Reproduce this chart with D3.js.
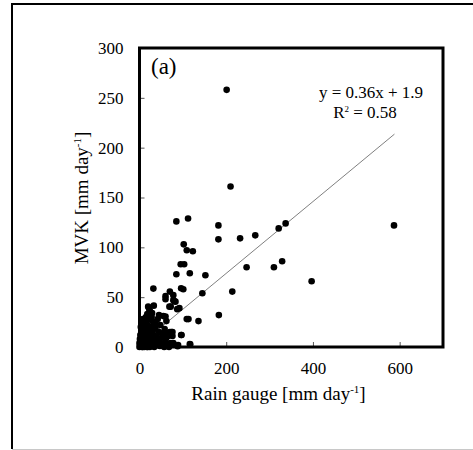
<!DOCTYPE html>
<html>
<head>
<meta charset="utf-8">
<script src="https://cdn.jsdelivr.net/npm/d3@7"></script>
<style>
  html, body { margin: 0; padding: 0; background: #fff; }
  svg { display: block; }
  text { font-family: "Liberation Serif", "Times New Roman", serif; fill: #000; }
</style>
</head>
<body>
<svg id="chart" width="473" height="450"></svg>
<script>
// ---- Data ----
const gaugeValues = [
  201, 210, 85, 112, 182, 182, 232, 267, 321, 337, 587,
  102, 109, 123, 95, 103, 85, 116, 152, 247, 310, 329, 397,
  96, 101, 32, 145, 214, 183, 136, 109, 113, 117, 88, 96, 76, 76,
  60, 70, 78, 60, 80, 69, 87, 92, 20, 33, 23,
  83, 72, 22, 29, 45, 60, 18, 37, 10, 78, 74, 97, 78, 89, 116, 61, 62, 55,
  0, 1, 2, 3, 4, 5, 6, 7, 8, 9, 10, 11, 12, 13, 14, 15, 16, 17, 18, 19,
  20, 21, 22, 23, 24, 25, 26, 27, 28, 29, 30, 31, 32, 33, 34, 35, 36, 37, 38,
  40, 42, 44, 45, 47, 48, 50, 52, 54, 55, 57, 58, 60, 62, 64, 66, 68, 70, 72,
  3, 5, 8, 2, 1, 0, 4, 6, 12, 15, 18, 10, 20, 25, 28, 14, 9, 11, 16, 19, 21, 23
];
const mvkValues = [
  258, 161, 126, 129, 122, 108, 109, 112, 119, 124, 122,
  103, 97, 96, 83, 83, 73, 74, 72, 80, 80, 86, 66,
  59, 58, 58.6, 54, 55.6, 32, 26, 28, 28, 2.7, 0.7, 12, 15, 11,
  51, 55.6, 52, 48, 46, 40.5, 38, 39, 40.5, 41.5, 37,
  45.5, 40.5, 39, 34, 32, 30.5, 29, 24, 20, 47, 15, 12, 4, 2, 3, 14, 9.4, 2,
  0, 2, 5, 1, 8, 3, 12, 0, 6, 15, 2, 10, 4, 18, 1, 7, 13, 0, 22, 5,
  9, 16, 3, 11, 0, 20, 6, 14, 2, 26, 8, 17, 4, 12, 0, 24, 7, 19, 3,
  10, 28, 5, 15, 1, 22, 9, 3, 13, 31, 0, 18, 6, 26, 2, 11, 0, 15, 4,
  20, 25, 28, 12, 8, 4, 16, 0, 24, 30, 33, 22, 28, 35, 30, 10, 3, 0, 4, 0, 1, 6
];
const xTickValues = [0, 200, 400, 600];
const yTickValues = [0, 50, 100, 150, 200, 250, 300];
const fitSlope = 0.36;
const fitIntercept = 1.9;
const fitRange = [0, 588];
const xTitle = "Rain gauge [mm day";
const yTitle = "MVK [mm day";
const panelLabel = "(a)";
const eqText = "y = 0.36x + 1.9";
const r2Value = " = 0.58";

const points = gaugeValues.map((g, i) => ({ x: g, y: mvkValues[i] }));

// ---- Layout ----
const svg = d3.select("#chart");
const x = d3.scaleLinear().domain([0, 700]).range([139.5, 443]);
const y = d3.scaleLinear().domain([0, 300]).range([347, 48]);

// outer figure border
svg.append("line").attr("x1", 12).attr("y1", 4).attr("x2", 12).attr("y2", 449)
  .attr("stroke", "#000").attr("stroke-width", 2);
svg.append("line").attr("x1", 11).attr("y1", 4).attr("x2", 473).attr("y2", 4)
  .attr("stroke", "#000").attr("stroke-width", 2);
svg.append("line").attr("x1", 12).attr("y1", 449.5).attr("x2", 473).attr("y2", 449.5)
  .attr("stroke", "#c8c8c8").attr("stroke-width", 1);

// axes (inward ticks)
const xAxis = d3.axisBottom(x).tickValues(xTickValues).tickSize(-5).tickPadding(15).tickFormat(d3.format("d"));
const yAxis = d3.axisLeft(y).tickValues(yTickValues).tickSize(-5).tickPadding(16).tickFormat(d3.format("d"));

const gx = svg.append("g").attr("transform", `translate(0,${y(0)})`).call(xAxis);
const gy = svg.append("g").attr("transform", `translate(${x(0)},0)`).call(yAxis);
[gx, gy].forEach(g => {
  g.select(".domain").remove();
  g.selectAll(".tick line").attr("stroke", "#555").attr("stroke-width", 1);
  g.selectAll(".tick text").attr("font-size", 17).attr("font-family", "Liberation Serif").attr("fill", "#000");
});

// regression line
svg.append("line")
  .attr("x1", x(fitRange[0])).attr("y1", y(fitSlope * fitRange[0] + fitIntercept))
  .attr("x2", x(fitRange[1])).attr("y2", y(fitSlope * fitRange[1] + fitIntercept))
  .attr("stroke", "#808080").attr("stroke-width", 1);

// points
svg.append("g").selectAll("circle").data(points).join("circle")
  .attr("cx", d => x(d.x)).attr("cy", d => y(d.y)).attr("r", 3.3).attr("fill", "#000");

// plot frame
svg.append("rect")
  .attr("x", x(0)).attr("y", y(300))
  .attr("width", x(700) - x(0)).attr("height", y(0) - y(300))
  .attr("fill", "none").attr("stroke", "#000").attr("stroke-width", 3);

// panel label
svg.append("text").attr("x", 151).attr("y", 74).attr("font-size", 23).text(panelLabel);

// equation
svg.append("text").attr("x", 371).attr("y", 98).attr("text-anchor", "middle").attr("font-size", 17).text(eqText);
const r2 = svg.append("text").attr("x", 365).attr("y", 118).attr("text-anchor", "middle").attr("font-size", 17);
r2.append("tspan").text("R");
r2.append("tspan").attr("font-size", 9).attr("dy", -6).text("2");
r2.append("tspan").attr("dy", 6).text(r2Value);

// x title
const xt = svg.append("text").attr("x", 278.5).attr("y", 400).attr("text-anchor", "middle").attr("font-size", 19);
xt.append("tspan").text(xTitle);
xt.append("tspan").attr("font-size", 11).attr("dy", -7).text("-1");
xt.append("tspan").attr("dy", 7).text("]");

// y title
const yt = svg.append("text").attr("transform", "translate(88,198) rotate(-90)").attr("text-anchor", "middle").attr("font-size", 19);
yt.append("tspan").text(yTitle);
yt.append("tspan").attr("font-size", 11).attr("dy", -7).text("-1");
yt.append("tspan").attr("dy", 7).text("]");
</script>
</body>
</html>
